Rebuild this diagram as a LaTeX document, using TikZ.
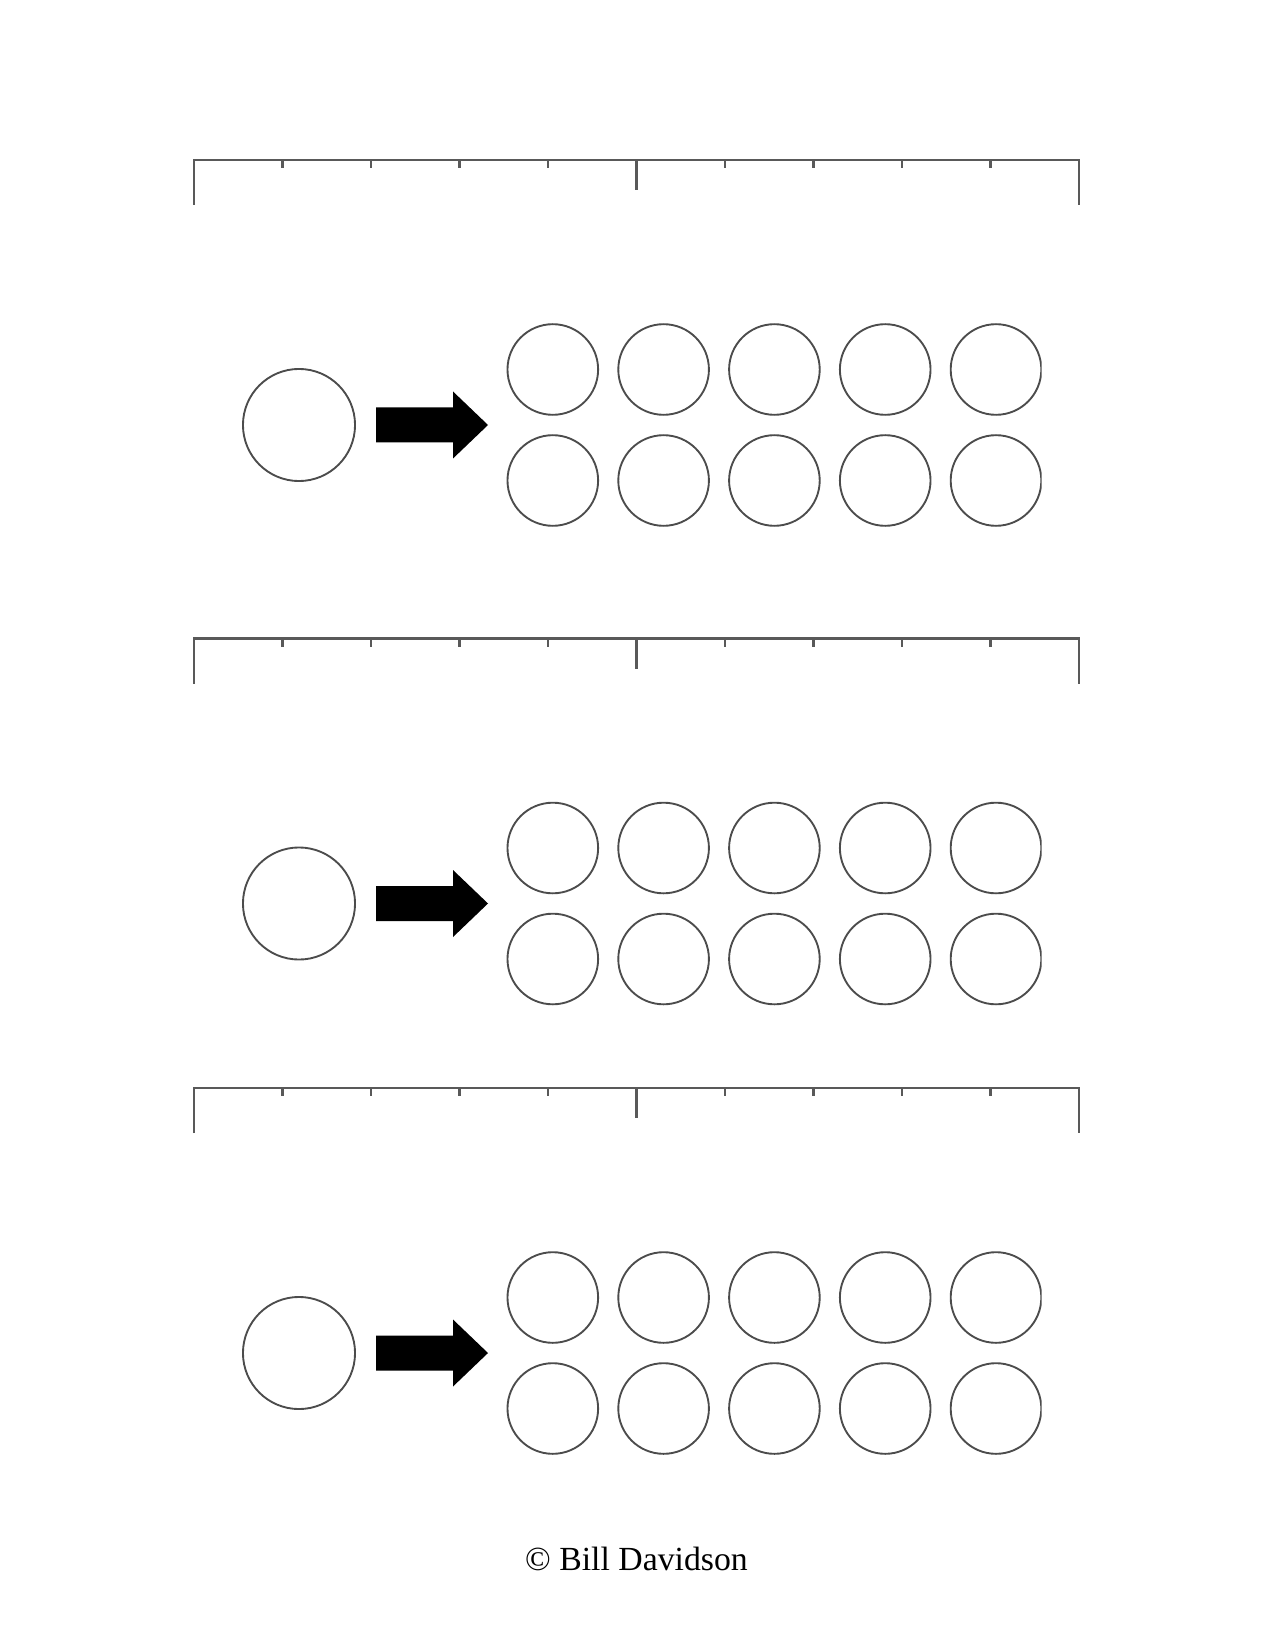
\documentclass[tikz,border=0pt]{standalone}
\usepackage{fontspec}
\setmainfont{Liberation Serif}
\usetikzlibrary{positioning}
\tikzset{x=0.48pt, y=-0.48pt}

\begin{document}
\begin{tikzpicture}[whole/.style={circle, draw=black!70, line width=0.9pt, minimum size=53.8pt, inner sep=0pt}, part/.style={circle, draw=black!70, line width=0.9pt, minimum size=43.5pt, inner sep=0pt},
ruler/.style={draw=black!65, line width=1.1pt}, fatarrow/.style={fill=black}]
    \useasboundingbox (0,0) rectangle (1275,1650);

    \foreach \g/\dy in {1/0, 2/478.5, 3/928} {
    % number line
    \draw[ruler] (194,205+\dy) -- (194,160+\dy) -- (1079,160+\dy) -- (1079,205+\dy);
    \foreach \k in {1,...,9}
        \draw[ruler] (194+88.5*\k,160+\dy) -- ++(0,8);
    \draw[ruler] (636.5,160+\dy) -- ++(0,30);

    \node[whole] (whole\g) at (299,425+\dy) {};
    \fill[fatarrow] (376,407.5+\dy) -- (453,407.5+\dy) -- (453,391.5+\dy) -- (488,425+\dy) -- (453,458.5+\dy) -- (453,442.5+\dy) -- (376,442.5+\dy) -- cycle;

    \begin{scope}
    \clip (0,0) rectangle (1041.5,1650);
    \foreach \r in {1,2}
        \foreach \c in {1,...,5}
            \node[part] (part\g-\r-\c) at (552.8+110.8*\c-110.8,258.5+111*\r+\dy) {};
    \end{scope}
    }

    \node[anchor=base] (credit) at (636.5,1570) {\fontsize{16.2}{19}\selectfont © Bill Davidson};
\end{tikzpicture}
\end{document}
